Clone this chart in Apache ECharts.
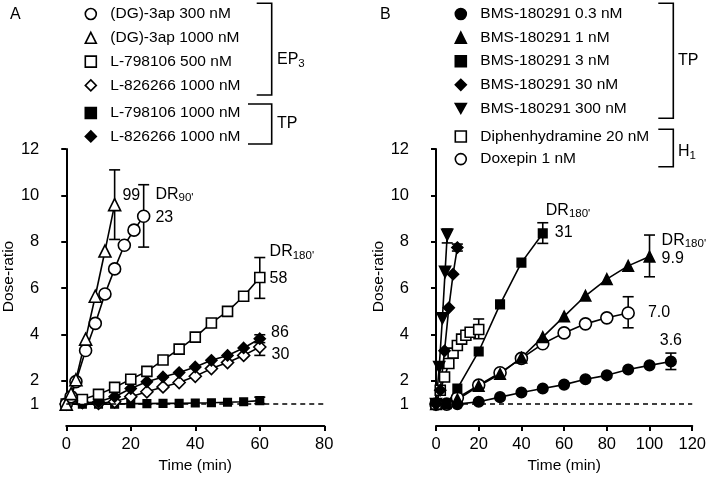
<!DOCTYPE html>
<html><head><meta charset="utf-8">
<script src="https://cdn.jsdelivr.net/npm/echarts@6/dist/echarts.min.js"></script>
<style>html,body{margin:0;padding:0;background:#fff}#c{width:709px;height:479px}</style>
</head><body><div id="c"></div>
<script>
// ---------- data ----------
const yTickValues = [1, 2, 4, 6, 8, 10, 12];
// Panel A  [time (min), dose-ratio]
const dg300   = [[0,1.0],[1.5,1.32],[3,1.97],[6,3.31],[9,4.48],[12,5.75],[15,6.83],[18,7.85],[21,8.5],[24,9.1]];
const dg1000  = [[0,1.0],[1.5,1.45],[3,2.05],[6,3.8],[9,5.65],[12,7.6],[15,9.6]];
const l798_500 = [[0,1.0],[5,1.2],[10,1.42],[15,1.72],[20,2.07],[25,2.41],[30,2.9],[35,3.37],[40,3.89],[45,4.5],[50,5.0],[55,5.65],[60,6.46]];
const l826_ep3 = [[0,1.0],[5,1.07],[10,1.03],[15,1.1],[20,1.32],[25,1.53],[30,1.74],[35,1.93],[40,2.2],[45,2.53],[50,2.79],[55,3.1],[60,3.46]];
const l798_1000 = [[0,1.0],[5,1.0],[10,1.0],[15,1.0],[20,1.02],[25,1.02],[30,1.03],[35,1.03],[40,1.05],[45,1.06],[50,1.08],[55,1.1],[60,1.15]];
const l826_tp  = [[0,1.0],[5,1.05],[10,1.1],[15,1.32],[20,1.67],[25,1.96],[30,2.17],[35,2.36],[40,2.6],[45,2.89],[50,3.1],[55,3.42],[60,3.82]];
// error bars A [x, low, high]
const errA = [[15,8.1,11.1],[24,7.77,10.46],[60,5.56,7.32],[60,3.65,3.99],[60,3.1,3.46],[60,1.02,1.3]];
// Panel B
const bms03  = [[0,1.0],[10,1.0],[20,1.1],[30,1.3],[40,1.5],[50,1.67],[60,1.84],[70,2.07],[80,2.24],[90,2.49],[100,2.67],[110,2.84]];
const bms1   = [[0,1.0],[10,1.2],[20,1.78],[30,2.3],[40,3.0],[50,3.89],[60,4.78],[70,5.67],[80,6.39],[90,6.96],[100,7.36]];
const bms3   = [[0,1.0],[5,1.0],[10,1.67],[20,3.27],[30,5.3],[40,7.1],[50,8.36]];
const bms30  = [[0,1.0],[2,1.6],[4,3.3],[6,5.15],[8,6.6],[10,7.75]];
const bms300 = [[0,1.0],[1.5,2.6],[3,4.7],[4.25,6.7],[5.25,8.3]];
const diph   = [[0,1.0],[2,1.6],[4,2.17],[6,2.75],[8,3.2],[10,3.53],[12,3.8],[14,3.97],[16,4.1],[20,4.22]];
const doxepin = [[0,1.0],[5,1.0],[10,1.27],[20,1.82],[30,2.35],[40,2.97],[50,3.6],[60,4.07],[70,4.46],[80,4.72],[90,4.93]];
const errB = [[5.25,7.95,8.55],[10,7.6,7.9],[20,3.82,4.67],[50,7.93,8.82],[100,6.49,8.29],[90,4.29,5.63],[110,2.49,3.2]];

// ---------- styling helpers ----------
const FONT = "'Liberation Sans', Arial, Helvetica, sans-serif";
const INV_TRI = 'path://M0,0L10,0L5,9Z';
const AF = 16; // annotation font size
const rich = {
  dr: {fontSize: AF, fontFamily: FONT, color: '#000'},
  sub: {fontSize: 11.5, fontFamily: FONT, color: '#000', padding: [7, 0, 0, 0]},
  n: {fontSize: AF, fontFamily: FONT, color: '#000'},
  n2: {fontSize: AF, fontFamily: FONT, color: '#000', padding: [0, 0, 0, 9]}
};
function lastLabel(arr, label) {
  return arr.map((p, i) => i === arr.length - 1 ? {value: p, label: Object.assign({show: true, color: '#000', fontSize: AF, fontFamily: FONT}, label)} : p);
}
function lineSeries(name, data, gi, symbol, size, filled, extra) {
  return Object.assign({
    type: 'line', name, data, xAxisIndex: gi, yAxisIndex: gi,
    symbol, symbolSize: size, showAllSymbol: true, clip: false,
    lineStyle: {color: '#000', width: 1.6},
    itemStyle: {color: filled ? '#000' : '#fff', borderColor: '#000', borderWidth: 1.6},
    label: {show: false}, emphasis: {disabled: true}, z: 3
  }, extra || {});
}
function errSeries(data, gi) {
  return {
    type: 'custom', data, xAxisIndex: gi, yAxisIndex: gi, clip: false, z: 2,
    encode: {x: 0, y: [1, 2]},
    renderItem(params, api) {
      const x = api.value(0), lo = api.value(1), hi = api.value(2);
      const a = api.coord([x, lo]), b = api.coord([x, hi]);
      const w = 5.5, st = {stroke: '#000', lineWidth: 1.6};
      return {type: 'group', children: [
        {type: 'line', shape: {x1: a[0], y1: a[1], x2: b[0], y2: b[1]}, style: st},
        {type: 'line', shape: {x1: a[0] - w, y1: a[1], x2: a[0] + w, y2: a[1]}, style: st},
        {type: 'line', shape: {x1: b[0] - w, y1: b[1], x2: b[0] + w, y2: b[1]}, style: st}
      ]};
    }
  };
}
const dashed = {silent: true, symbol: ['none', 'none'], data: [{yAxis: 1}],
  lineStyle: {type: [5, 4], color: '#000', width: 1.5}, label: {show: false}};

function xAxis(gi, max) {
  return {gridIndex: gi, type: 'value', min: 0, max, interval: 20, offset: 22,
    name: 'Time (min)', nameLocation: 'middle', nameGap: 26,
    nameTextStyle: {fontSize: 15.5, fontFamily: FONT, color: '#000'},
    axisLine: {show: true, lineStyle: {color: '#000', width: 2}},
    axisTick: {show: true, length: 5, lineStyle: {color: '#000', width: 2}},
    axisLabel: {fontSize: 16.5, fontFamily: FONT, color: '#000', margin: 10},
    splitLine: {show: false}};
}
function yAxis(gi) {
  return {gridIndex: gi, type: 'value', min: 1, max: 12, offset: 22,
    name: 'Dose-ratio', nameLocation: 'middle', nameGap: 27,
    nameTextStyle: {fontSize: 15.5, fontFamily: FONT, color: '#000'},
    axisLine: {show: true, lineStyle: {color: '#000', width: 2}},
    axisTick: {show: true, length: 5, customValues: yTickValues, lineStyle: {color: '#000', width: 2}},
    axisLabel: {fontSize: 16.5, fontFamily: FONT, color: '#000', margin: 5, customValues: yTickValues},
    splitLine: {show: false}};
}
function legendItem(name, icon, filled) {
  return {name, icon, itemStyle: {color: filled ? '#000' : '#fff', borderColor: '#000', borderWidth: 1.6}};
}
function legend(left, top, gap, items) {
  return {left, top, padding: 0, orient: 'vertical', itemWidth: 11, itemHeight: 11, itemGap: gap,
    selectedMode: false, data: items,
    textStyle: {fontSize: 15.5, fontFamily: FONT, color: '#000', padding: [0, 0, 0, 9], lineHeight: 16}};
}
function bracket(x0, x1, y0, y1) {
  return {type: 'polyline', shape: {points: [[x0, y0], [x1, y0], [x1, y1], [x0, y1]]},
    style: {stroke: '#000', lineWidth: 1.6, fill: null}};
}
function txt(x, y, text, size) {
  return {type: 'text', x, y, style: {text, fontSize: size || 16, fontFamily: FONT, fill: '#000', verticalAlign: 'middle', rich}};
}

const N = {
  dg300: '(DG)-3ap 300 nM', dg1000: '(DG)-3ap 1000 nM', l798_500: 'L-798106 500 nM',
  l826_ep3: 'L-826266 1000 nM', l798_1000: 'L-798106 1000 nM', l826_tp: 'L-826266 1000 nM ',
  bms03: 'BMS-180291 0.3 nM', bms1: 'BMS-180291 1 nM', bms3: 'BMS-180291 3 nM',
  bms30: 'BMS-180291 30 nM', bms300: 'BMS-180291 300 nM', diph: 'Diphenhydramine 20 nM', dox: 'Doxepin 1 nM'
};

const option = {
  animation: false,
  backgroundColor: '#fff',
  textStyle: {fontFamily: FONT},
  grid: [
    {left: 66, top: 149, width: 258.3, height: 256.7},
    {left: 436, top: 149, width: 258, height: 256.7}
  ],
  xAxis: [xAxis(0, 80), xAxis(1, 120)],
  yAxis: [yAxis(0), yAxis(1)],
  legend: [
    legend(84.5, 6, 7.8, [legendItem(N.dg300, 'circle', false), legendItem(N.dg1000, 'triangle', false),
      legendItem(N.l798_500, 'rect', false), legendItem(N.l826_ep3, 'diamond', false)]),
    legend(84.5, 105, 7.4, [legendItem(N.l798_1000, 'rect', true), legendItem(N.l826_tp, 'diamond', true)]),
    legend(454.5, 6, 7.6, [legendItem(N.bms03, 'circle', true), legendItem(N.bms1, 'triangle', true),
      legendItem(N.bms3, 'rect', true), legendItem(N.bms30, 'diamond', true), legendItem(N.bms300, INV_TRI, true)]),
    legend(454.5, 128.5, 6.6, [legendItem(N.diph, 'rect', false), legendItem(N.dox, 'circle', false)])
  ],
  graphic: [
    txt(10, 15, 'A'), txt(380, 15, 'B'),
    bracket(256.7, 271.7, 3.3, 95), bracket(248, 271.7, 104, 144),
    txt(277, 60, '{dr|EP}{sub|3}'), txt(277, 124, 'TP'),
    bracket(658.3, 673.3, 3.3, 118.3), bracket(658.3, 673.3, 129.3, 166.7),
    txt(678, 61, 'TP'), txt(678, 152, '{dr|H}{sub|1}')
  ],
  series: [
    errSeries(errA, 0),
    lineSeries(N.l798_1000, l798_1000, 0, 'rect', 7.5, true, {markLine: dashed}),
    lineSeries(N.l826_ep3, lastLabel(l826_ep3, {position: 'right', distance: 5, offset: [0, 8], formatter: '30'}), 0, 'diamond', 12, false),
    lineSeries(N.l826_tp, lastLabel(l826_tp, {position: 'right', distance: 5, offset: [0, -6], formatter: '86'}), 0, 'diamond', 11, true),
    lineSeries(N.l798_500, lastLabel(l798_500, {position: 'right', distance: 4, offset: [0, -12],
      formatter: "{dr|DR}{sub|180'}\n{n|58}", lineHeight: 27, rich}), 0, 'rect', 10, false),
    lineSeries(N.dg300, lastLabel(dg300, {position: 'right', distance: 5, offset: [0, -10],
      formatter: "{dr|DR}{sub|90'}\n{n|23}", lineHeight: 23, rich}), 0, 'circle', 12, false),
    lineSeries(N.dg1000, lastLabel(dg1000, {position: 'right', distance: 1, offset: [0, -9], formatter: '99'}), 0, 'triangle', 12, false),

    errSeries(errB, 1),
    lineSeries(N.bms03, lastLabel(bms03, {position: 'top', distance: 7, formatter: '3.6'}), 1, 'circle', 10.5, true, {markLine: dashed}),
    lineSeries(N.dox, lastLabel(doxepin, {position: 'right', distance: 13, formatter: '7.0'}), 1, 'circle', 12, false),
    lineSeries(N.bms1, lastLabel(bms1, {position: 'right', distance: 6, offset: [0, -7],
      formatter: "{dr|DR}{sub|180'}\n{n|9.9}", lineHeight: 18, rich}), 1, 'triangle', 10.5, true),
    lineSeries(N.bms3, lastLabel(bms3, {position: 'right', distance: -2, offset: [0, -12],
      formatter: "{dr|DR}{sub|180'}\n{n2|31}", lineHeight: 22, rich}), 1, 'rect', 8.5, true),
    lineSeries(N.diph, diph, 1, 'rect', 10, false),
    lineSeries(N.bms30, bms30, 1, 'diamond', 11, true),
    lineSeries(N.bms300, bms300, 1, INV_TRI, 11, true)
  ]
};
const chart = echarts.init(document.getElementById('c'), null, {renderer: 'canvas'});
chart.setOption(option);
</script>
</body></html>
